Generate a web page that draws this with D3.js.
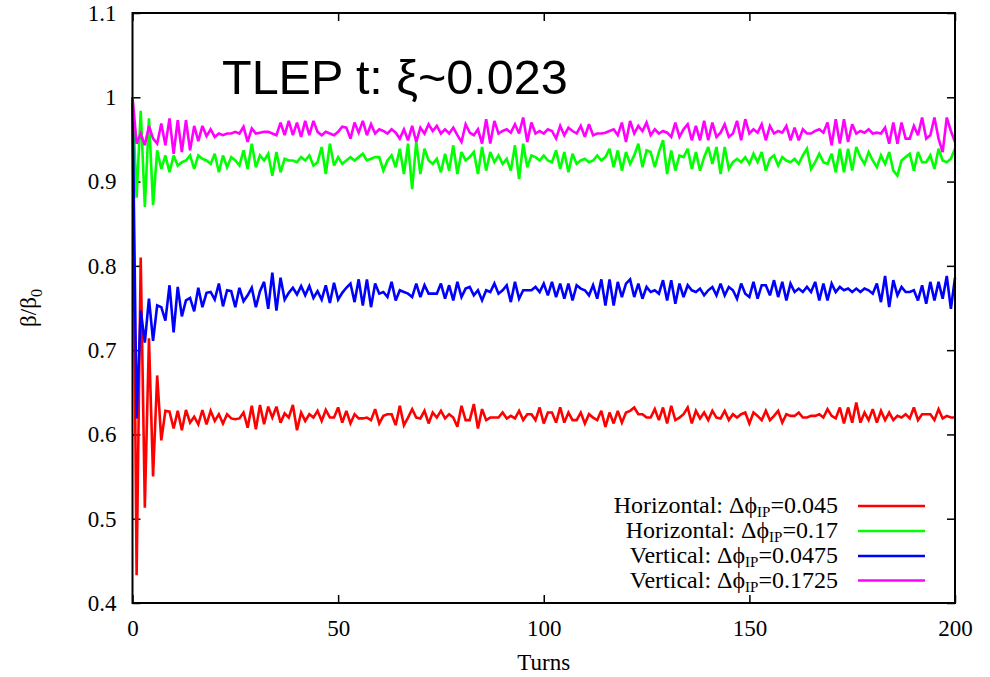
<!DOCTYPE html>
<html>
<head>
<meta charset="utf-8">
<script src="https://cdn.jsdelivr.net/npm/d3@7"></script>
<style>
  html, body { margin: 0; padding: 0; background: #fff; }
  svg { display: block; }
</style>
</head>
<body>
<svg id="chart" width="990" height="677"></svg>
<script>
// ---------------- DATA ----------------
const xTicks = [0, 50, 100, 150, 200];
const yTicks = [0.4, 0.5, 0.6, 0.7, 0.8, 0.9, 1.0, 1.1];
const titleText = "TLEP t: ξ~0.023";
const xLabel = "Turns";

const seriesNames = ["Horizontal: Δϕ", "Horizontal: Δϕ", "Vertical: Δϕ", "Vertical: Δϕ"];
const seriesSub = ["IP", "IP", "IP", "IP"];
const seriesValuesText = ["=0.045", "=0.17", "=0.0475", "=0.1725"];
const seriesColors = ["#ff0000", "#00ff00", "#0000ff", "#ff00ff"];

// beta/beta0 vs turn (turn 0..200)
const horizontal045 = [1.0,
0.433,0.810,0.513,0.714,0.550,0.670,0.593,0.628,0.627,0.607,
0.628,0.605,0.629,0.614,0.621,0.612,0.629,0.612,0.628,0.616,
0.624,0.613,0.624,0.619,0.618,0.619,0.626,0.608,0.634,0.606,
0.635,0.612,0.633,0.620,0.633,0.614,0.625,0.620,0.635,0.605,
0.626,0.616,0.624,0.620,0.628,0.616,0.629,0.620,0.620,0.632,
0.614,0.628,
0.613,0.624,0.619,0.619,0.620,0.617,0.630,0.613,0.622,0.624,
0.624,0.611,0.634,0.611,0.620,0.630,0.620,0.619,0.628,0.613,
0.626,0.620,0.628,0.619,0.624,0.620,0.609,0.634,0.617,0.617,
0.636,0.607,0.630,0.617,0.620,0.620,0.620,0.626,0.619,0.622,
0.619,0.628,0.617,0.624,0.624,0.617,0.632,0.613,0.626,0.626,
0.614,0.632,0.614,0.626,0.617,0.617,0.626,0.613,0.624,0.620,
0.617,0.628,0.609,0.626,0.613,0.628,0.614,0.626,0.628,0.632,
0.624,0.624,0.620,
0.620,0.630,0.617,0.632,0.613,0.634,0.617,0.620,0.624,0.632,
0.613,0.628,0.619,0.626,0.617,0.628,0.620,0.619,0.628,0.617,
0.624,0.620,0.624,0.626,0.613,0.626,0.622,0.617,0.628,0.617,
0.622,0.628,0.614,0.624,0.622,0.622,0.626,0.620,0.620,0.622,
0.622,0.624,0.620,0.630,0.622,0.619,0.632,0.613,0.632,0.614,
0.638,0.614,0.626,0.617,0.630,0.614,0.628,0.617,0.626,0.617,
0.622,0.620,0.624,0.619,0.632,0.617,0.624,0.624,0.624,0.617,
0.630,0.619,0.622,0.620,0.620];

const horizontal17 = [1.0,
0.881,0.984,0.870,0.975,0.872,0.937,0.915,0.931,0.911,0.931,
0.919,0.923,0.925,0.931,0.915,0.931,0.927,0.925,0.921,
0.933,0.911,0.931,0.917,0.929,0.925,0.919,0.937,0.915,0.945,
0.917,0.931,0.925,0.933,0.907,0.935,0.911,0.927,0.925,0.925,
0.923,0.929,0.925,0.931,0.919,0.923,0.941,0.909,0.945,0.919,
0.929,0.921,
0.925,0.929,0.925,0.929,0.933,0.925,0.927,0.929,0.929,0.913,
0.925,0.931,0.917,0.939,0.909,0.945,0.891,0.947,0.909,0.939,
0.925,0.921,0.927,0.911,0.933,0.913,0.943,0.909,0.935,0.925,
0.929,0.935,0.909,0.941,0.913,0.935,0.923,0.931,0.921,0.927,
0.913,0.943,0.903,0.945,0.917,0.931,0.929,0.925,0.931,0.925,
0.923,0.937,0.915,0.935,0.911,0.933,0.921,0.925,0.927,0.923,
0.925,0.931,0.925,0.929,0.939,0.917,0.937,0.913,0.935,0.921,
0.931,0.945,0.917,0.937,
0.935,0.917,0.935,0.949,0.909,0.937,0.913,0.931,0.929,0.939,
0.915,0.935,0.913,0.929,0.941,0.921,0.941,0.909,0.941,0.915,
0.923,0.927,0.923,0.929,0.921,0.933,0.923,0.935,0.913,0.927,
0.931,0.919,0.929,0.925,0.923,0.927,0.921,0.931,0.939,0.915,
0.923,0.933,0.923,0.921,0.933,0.911,0.939,0.911,0.939,0.913,
0.941,0.929,0.921,0.935,0.925,0.917,0.931,0.921,0.935,0.913,
0.907,0.925,0.929,0.933,0.913,0.935,0.923,0.923,0.931,0.915,
0.939,0.925,0.923,0.927,0.939];

const vertical0475 = [1.0,
0.619,0.747,0.709,0.761,0.711,0.753,0.751,0.735,0.777,0.721,
0.775,0.740,0.759,0.762,0.746,0.774,0.751,0.768,0.769,0.760,
0.779,0.752,0.771,0.770,0.751,0.774,0.758,0.765,0.774,0.751,
0.770,0.781,0.749,0.792,0.747,0.786,0.760,0.768,0.774,0.766,
0.776,0.765,0.776,0.762,0.770,0.760,0.777,0.756,0.780,0.760,
0.768,0.774,
0.779,0.757,0.784,0.753,0.784,0.751,0.779,0.767,0.769,0.763,
0.781,0.759,0.771,0.769,0.767,0.763,0.779,0.763,0.777,0.767,
0.767,0.767,0.779,0.761,0.777,0.759,0.781,0.763,0.773,0.775,
0.765,0.771,0.759,0.771,0.769,0.779,0.767,0.771,0.777,0.757,
0.781,0.761,0.771,0.771,0.771,0.775,0.769,0.779,0.765,0.781,
0.763,0.779,0.761,0.779,0.759,0.777,0.773,0.771,0.765,0.777,
0.761,0.784,0.753,0.784,0.753,0.781,0.763,0.779,0.784,0.763,
0.779,0.761,0.775,
0.769,0.771,0.767,0.783,0.759,0.783,0.755,0.779,0.763,0.777,
0.771,0.769,0.773,0.765,0.771,0.775,0.765,0.779,0.765,0.775,
0.771,0.761,0.779,0.767,0.763,0.781,0.761,0.777,0.777,0.765,
0.783,0.763,0.781,0.759,0.779,0.769,0.773,0.769,0.775,0.769,
0.781,0.759,0.779,0.759,0.779,0.769,0.775,0.771,0.773,0.769,
0.773,0.769,0.773,0.771,0.767,0.779,0.757,0.788,0.751,0.783,
0.765,0.775,0.769,0.769,0.771,0.759,0.777,0.755,
0.781,0.759,0.781,0.761,0.788,0.749,0.786];

const vertical1725 = [1.0,
0.945,0.957,0.943,0.966,0.951,0.945,0.969,0.943,0.975,0.933,
0.973,0.935,0.973,0.937,0.966,0.948,0.966,0.954,0.962,
0.953,0.957,0.955,0.957,0.957,0.959,0.957,0.965,0.947,0.963,
0.957,0.958,0.959,0.959,0.957,0.955,0.970,0.955,0.972,0.955,
0.970,0.953,0.972,0.955,0.972,0.959,0.955,0.959,0.957,0.955,
0.959,0.965,
0.964,0.951,0.970,0.958,0.972,0.955,0.968,0.957,0.962,0.960,
0.957,0.962,0.958,0.951,0.962,0.949,0.966,0.947,0.964,0.957,
0.968,0.960,0.966,0.957,0.962,0.957,0.964,0.955,0.947,0.968,
0.958,0.955,0.962,0.945,0.974,0.945,0.972,0.957,0.960,0.962,
0.958,0.968,0.957,0.976,0.947,0.970,0.957,0.960,0.957,0.962,
0.960,0.951,0.966,0.955,0.964,0.960,0.957,0.966,0.953,0.968,
0.955,0.957,0.957,0.958,0.960,0.962,0.955,0.970,0.947,0.972,
0.957,0.966,0.960,0.970,
0.955,0.962,0.957,0.960,0.958,0.953,0.970,0.953,0.962,0.968,
0.949,0.966,0.949,0.972,0.949,0.970,0.953,0.958,0.968,0.953,
0.957,0.972,0.949,0.974,0.957,0.962,0.958,0.968,0.949,0.966,
0.957,0.960,0.958,0.966,0.949,0.964,0.949,0.962,0.957,0.957,
0.960,0.962,0.958,0.970,0.943,0.974,0.945,0.974,0.947,0.968,
0.957,0.960,0.958,0.962,0.957,0.958,0.957,0.964,0.945,0.970,
0.945,0.970,0.951,0.951,0.966,0.955,0.976,0.951,0.955,0.976,
0.951,0.935,0.976,0.960,0.947];

const allSeries = [horizontal045, horizontal17, vertical0475, vertical1725];

// ---------------- DRAW ----------------
const svg = d3.select("#chart");
const pLeft = 132.5, pRight = 955, pTop = 13, pBottom = 603;
const x = d3.scaleLinear().domain([0, 200]).range([pLeft, pRight]);
const y = d3.scaleLinear().domain([0.4, 1.1]).range([pBottom, pTop]);

const serif = "'Liberation Serif', 'Times New Roman', 'DejaVu Serif', serif";
const sans = "'Liberation Sans', Arial, Helvetica, sans-serif";
const fmt = d => String(+d.toFixed(1));

// axes
const gL = svg.append("g").attr("transform", `translate(${pLeft},0)`)
  .call(d3.axisLeft(y).tickValues(yTicks).tickFormat(fmt).tickSizeInner(-8).tickSizeOuter(0).tickPadding(16));
const gR = svg.append("g").attr("transform", `translate(${pRight},0)`)
  .call(d3.axisRight(y).tickValues(yTicks).tickFormat("").tickSizeInner(-8).tickSizeOuter(0));
const gB = svg.append("g").attr("transform", `translate(0,${pBottom})`)
  .call(d3.axisBottom(x).tickValues(xTicks).tickFormat(d3.format("d")).tickSizeInner(-8).tickSizeOuter(0).tickPadding(17));
const gT = svg.append("g").attr("transform", `translate(0,${pTop})`)
  .call(d3.axisTop(x).tickValues(xTicks).tickFormat("").tickSizeInner(-8).tickSizeOuter(0));

[gL, gR, gB, gT].forEach(g => {
  g.select(".domain").remove();
  g.selectAll(".tick line").attr("stroke", "#000").attr("stroke-width", 1.5);
  g.selectAll(".tick text").attr("fill", "#000").style("font-family", serif).style("font-size", "23px");
});

// data lines
const line = d3.line().x((d, i) => x(i)).y(d => y(d));
allSeries.forEach((s, k) => {
  svg.append("path")
    .datum(s)
    .attr("d", line)
    .attr("fill", "none")
    .attr("stroke", seriesColors[k])
    .attr("stroke-width", 2.6)
    .attr("stroke-linejoin", "miter")
    .attr("stroke-miterlimit", 3);
});

// frame
svg.append("rect")
  .attr("x", pLeft).attr("y", pTop)
  .attr("width", pRight - pLeft).attr("height", pBottom - pTop)
  .attr("fill", "none").attr("stroke", "#000").attr("stroke-width", 2);

// title
svg.append("text")
  .attr("x", 222).attr("y", 94)
  .style("font-family", sans).style("font-size", "48.5px")
  .attr("fill", "#000")
  .text(titleText);

// axis labels
svg.append("text")
  .attr("x", (pLeft + pRight) / 2).attr("y", 670)
  .attr("text-anchor", "middle")
  .style("font-family", serif).style("font-size", "23px")
  .text(xLabel);

const yl = svg.append("text")
  .attr("transform", "translate(36,308) rotate(-90)")
  .attr("text-anchor", "middle")
  .style("font-family", serif).style("font-size", "23px");
yl.append("tspan").text("β/β");
yl.append("tspan").attr("dy", 6).style("font-size", "16px").text("0");

// legend
const legTextX = 838, legLineX1 = 858, legLineX2 = 925;
const legY = [506, 531, 556, 580.5];
seriesNames.forEach((name, k) => {
  const t = svg.append("text")
    .attr("x", legTextX).attr("y", legY[k] + 7)
    .attr("text-anchor", "end")
    .style("font-family", serif).style("font-size", "24px")
    .attr("fill", "#000");
  t.append("tspan").text(name);
  t.append("tspan").attr("dy", 4).style("font-size", "15px").text(seriesSub[k]);
  t.append("tspan").attr("dy", -4).text(seriesValuesText[k]);
  svg.append("line")
    .attr("x1", legLineX1).attr("x2", legLineX2)
    .attr("y1", legY[k]).attr("y2", legY[k])
    .attr("stroke", seriesColors[k]).attr("stroke-width", 2.6);
});
</script>
</body>
</html>
